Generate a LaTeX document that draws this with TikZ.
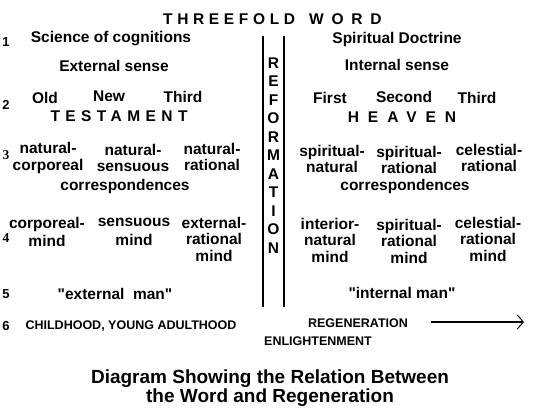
\documentclass[tikz,border=0pt]{standalone}
\usepackage{fontspec}
\setmainfont{Liberation Sans}
\newfontfamily\numfont{Liberation Serif}
\usetikzlibrary{arrows.meta}

\begin{document}
\begin{tikzpicture}[
    x=1pt, y=-1pt,
    every node/.style={color=black, inner sep=0pt, align=center,
                       font=\fontsize{15.5}{16.5}\selectfont\bfseries},
    rownum/.style={font=\fontsize{13}{13}\selectfont\bfseries},
    serifnum/.style={font=\fontsize{13.5}{13.5}\selectfont\numfont\bfseries},
    spaced/.style={font=\fontsize{15.5}{16.5}\selectfont\bfseries\addfontfeature{LetterSpace=#1}},
    quoted/.style={font=\fontsize{15.5}{16.5}\selectfont\bfseries\addfontfeature{Ligatures=TeXOff}},
    capsline/.style={font=\fontsize{12.5}{13}\selectfont\bfseries},
    heading/.style={font=\fontsize{19}{20}\selectfont\bfseries},
    wall/.style={line width=2pt},
    timeline/.style={line width=1.6pt, -{Straight Barb[length=6pt, width=14pt, line width=1pt]}}
]
\useasboundingbox[fill=white] (0,0) rectangle (537,410);

% --- heading ---
\node[anchor=west] (word) at (163,19)
    {{\addfontfeature{LetterSpace=30}THREEFOLD}\hspace*{14pt}{\addfontfeature{LetterSpace=50}WORD}};

% --- row numbers ---
\node[rownum] (n1) at (6,42) {1};
\node[rownum] (n2) at (6,105) {2};
\node[serifnum] (n3) at (6,155) {3};
\node[serifnum] (n4) at (6,238) {4};
\node[rownum] (n5) at (6,294) {5};
\node[rownum] (n6) at (6,326) {6};

% --- row 1 ---
\node (sci) at (111,39) {Science of cognitions};
\node (doctrine) at (397,39) {Spiritual Doctrine};
\node (extsense) at (114,66) {External sense};
\node (intsense) at (397,65) {Internal sense};

% --- row 2 ---
\node (old) at (45,98) {Old};
\node (new) at (109,96) {New};
\node (third) at (183,97) {Third};
\node[spaced=35] (testament) at (119,116) {TESTAMENT};
\node (first) at (330,98) {First};
\node (second) at (404,97) {Second};
\node (thirdh) at (477,98) {Third};
\node[spaced=58] (heaven) at (402,117) {HEAVEN};

% --- row 3 ---
\node (natcorp) at (48,158) {natural-\\corporeal};
\node (natsens) at (133,158) {natural-\\sensuous};
\node (natrat) at (212,157) {natural-\\rational};
\node (corrL) at (125,186) {correspondences};
\node (spnat) at (332,159) {spiritual-\\natural};
\node (sprat) at (409,160) {spiritual-\\rational};
\node (celrat) at (489,158) {celestial-\\rational};
\node (corrR) at (405,186) {correspondences};

% --- row 4 ---
\node (corpmind) at (47,232) {corporeal-\\[2pt]mind};
\node (sensmind) at (134,232) {sensuous\\[2pt]mind};
\node (extmind) at (214,239) {external-\\rational\\mind};
\node (intmind) at (330,240) {interior-\\natural\\mind};
\node (spmind) at (409,241) {spiritual-\\rational\\mind};
\node (celmind) at (488,239) {celestial-\\rational\\mind};

% --- row 5 ---
\node[quoted] (extman) at (115,294) {"external\ \ man"};
\node[quoted] (intman) at (402,293) {"internal man"};

% --- row 6 ---
\node[capsline] (childhood) at (131,326) {CHILDHOOD, YOUNG ADULTHOOD};
\node[capsline] (regen) at (358,323) {REGENERATION};
\node[capsline] (enlight) at (318,341) {ENLIGHTENMENT};
\coordinate (arrowS) at (431,322);
\coordinate (arrowE) at (524,322);
\draw[timeline] (arrowS) -- (arrowE);

% --- reformation wall ---
\coordinate (wallLT) at (263,36);
\coordinate (wallLB) at (263,307);
\coordinate (wallRT) at (284,36);
\coordinate (wallRB) at (284,307);
\draw[wall] (wallLT) -- (wallLB);
\draw[wall] (wallRT) -- (wallRB);
\foreach \ch [count=\i] in {R,E,F,O,R,M,A,T,I,O,N}
    \node (ref\i) at (273.5,{63+18.5*(\i-1)}) {\ch};

% --- caption ---
\node[heading] (cap1) at (270,379) {Diagram Showing the Relation Between};
\node[heading] (cap2) at (270,398) {the Word and Regeneration};

\end{tikzpicture}
\end{document}
